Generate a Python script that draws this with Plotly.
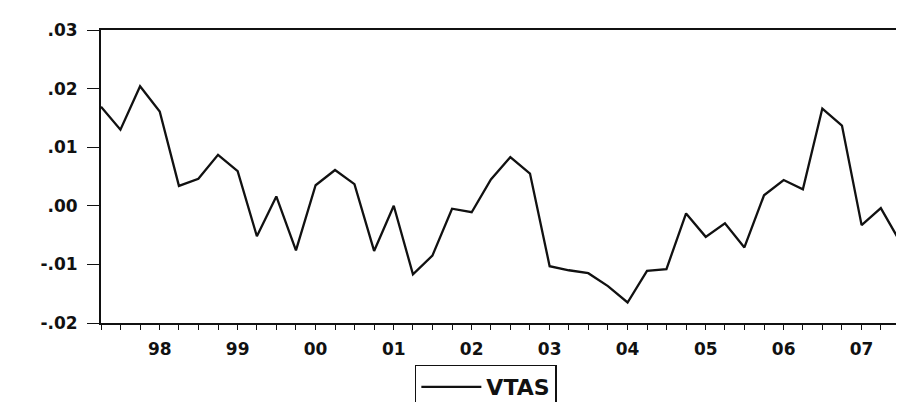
import pandas as pd
import plotly.graph_objects as go

# Quarterly observations 1997Q2 .. 2007Q4
quarters = pd.period_range("1997Q2", "2007Q4", freq="Q").to_timestamp()

vtas = [0.0169, 0.0130, 0.0204, 0.0161, 0.0034, 0.0046, 0.0087, 0.0059,
        -0.0052, 0.0016, -0.0076, 0.0035, 0.0061, 0.0037, -0.0077, -0.0000,
        -0.0117, -0.0085, -0.0005, -0.0011, 0.0045, 0.0083, 0.0055, -0.0103,
        -0.0110, -0.0115, -0.0137, -0.0165, -0.0111, -0.0108, -0.0013, -0.0053,
        -0.0030, -0.0071, 0.0018, 0.0044, 0.0028, 0.0166, 0.0137, -0.0033,
        -0.0004, -0.0062, -0.0052]

year_ticks = ["1998-01-01", "1999-01-01", "2000-01-01", "2001-01-01", "2002-01-01",
              "2003-01-01", "2004-01-01", "2005-01-01", "2006-01-01", "2007-01-01"]
year_labels = ["98", "99", "00", "01", "02", "03", "04", "05", "06", "07"]

y_ticks = [0.03, 0.02, 0.01, 0.0, -0.01, -0.02]
y_labels = [".03", ".02", ".01", ".00", "-.01", "-.02"]

fig = go.Figure()
fig.add_trace(go.Scatter(x=quarters, y=vtas, mode="lines", name="VTAS",
                         line=dict(color="#111111", width=2.3)))

font_family = "DejaVu Sans"
fig.update_layout(
    width=904, height=402,
    margin=dict(l=93, r=0, t=22, b=70),
    paper_bgcolor="white", plot_bgcolor="white",
    showlegend=True,
    legend=dict(x=0.387, y=-0.142, xanchor="left", yanchor="top",
                bordercolor="#111111", borderwidth=1.5, bgcolor="white",
                font=dict(family=font_family, size=22, color="#111111", weight="bold"),
                itemwidth=60),
    xaxis=dict(range=["1997-04-01", "2007-08-25"], tickvals=year_ticks, ticktext=year_labels,
               showgrid=False, zeroline=False, showline=True, linecolor="#111111", linewidth=2,
               mirror=True, ticks="outside", ticklen=5, tickcolor="#111111",
               minor=dict(dtick="M3", ticks="outside", ticklen=5, tickcolor="#111111"),
               tickfont=dict(family=font_family, size=17, color="#111111", weight="bold"),
               ticklabelstandoff=5),
    yaxis=dict(range=[-0.02, 0.03], tickvals=y_ticks, ticktext=y_labels,
               showgrid=False, zeroline=False, showline=True, linecolor="#111111", linewidth=2,
               ticks="outside", ticklen=12, tickcolor="#111111",
               tickfont=dict(family=font_family, size=17, color="#111111", weight="bold"),
               ticklabelstandoff=6),
)

fig.write_html("out.html")
